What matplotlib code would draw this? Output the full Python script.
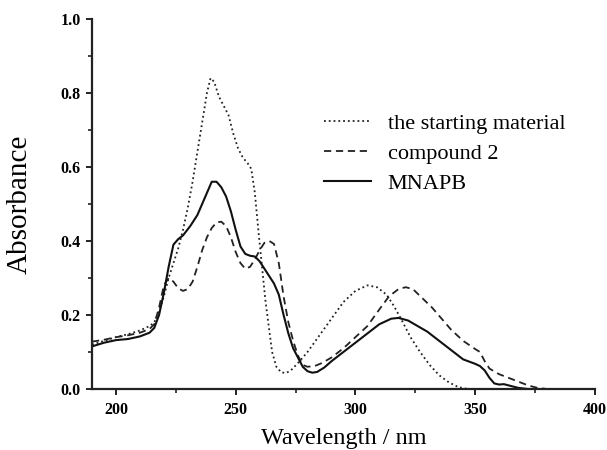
import numpy as np
import matplotlib
matplotlib.use('Agg')
import matplotlib.pyplot as plt
from matplotlib.ticker import MultipleLocator, FormatStrFormatter

plt.rcParams['font.family'] = ['Liberation Serif', 'DejaVu Serif']

# UV-vis absorption spectra
wl_start = [190, 195, 200, 205, 210, 214, 216, 218, 220, 222, 224, 226, 228, 230,
            232, 234, 236, 238, 239.5, 241, 243, 245, 247, 249, 251, 253, 255,
            256.5, 258, 259.6, 261, 262.4, 264, 265.2, 267, 269, 271, 273, 276,
            280, 285, 290, 295, 300, 305, 309, 313, 316, 319, 323, 327, 331, 335,
            339, 343, 347]
abs_start = [0.12, 0.13, 0.14, 0.148, 0.158, 0.17, 0.18, 0.21, 0.25, 0.30, 0.34,
             0.38, 0.43, 0.49, 0.56, 0.64, 0.72, 0.80, 0.84, 0.83, 0.79, 0.765,
             0.74, 0.69, 0.65, 0.625, 0.61, 0.595, 0.53, 0.42, 0.33, 0.24, 0.16,
             0.10, 0.06, 0.045, 0.043, 0.05, 0.07, 0.10, 0.145, 0.19, 0.235,
             0.265, 0.28, 0.275, 0.255, 0.225, 0.19, 0.14, 0.10, 0.065, 0.037,
             0.018, 0.005, 0.0]

wl_comp2 = [190, 195, 200, 205, 210, 214, 216, 218, 220, 222, 224, 226, 228, 230,
            232, 234, 236, 238, 240, 242, 244, 246, 248, 250, 252, 254, 256, 258,
            260, 262, 264, 266, 268, 270, 272, 274, 276, 278, 280, 283, 286, 290,
            295, 300, 305, 310, 314, 318, 321, 324, 328, 332, 336, 340, 345, 350,
            352, 354, 356, 360, 364, 368, 372, 376, 380]
abs_comp2 = [0.128, 0.133, 0.14, 0.145, 0.152, 0.162, 0.175, 0.22, 0.28, 0.30,
             0.29, 0.272, 0.265, 0.27, 0.29, 0.33, 0.375, 0.41, 0.435, 0.45,
             0.452, 0.44, 0.41, 0.37, 0.34, 0.325, 0.33, 0.35, 0.375, 0.395,
             0.40, 0.392, 0.34, 0.25, 0.18, 0.13, 0.09, 0.065, 0.06, 0.062, 0.07,
             0.085, 0.11, 0.14, 0.17, 0.215, 0.25, 0.27, 0.275, 0.27, 0.245,
             0.22, 0.19, 0.16, 0.13, 0.108, 0.10, 0.075, 0.055, 0.04, 0.03, 0.02,
             0.01, 0.003, 0.0]

wl_mnapb = [190, 195, 200, 205, 210, 214, 216, 218, 220, 222, 224, 226, 228, 231,
            234, 237, 240, 242, 244, 246, 248, 250, 252, 254, 256, 258, 260, 262,
            264, 266, 268, 270, 272, 274, 276, 278, 280, 282, 284, 287, 290, 295,
            300, 305, 310, 315, 318, 322, 326, 330, 335, 340, 345, 350, 352, 354,
            356, 358, 360, 362, 365, 368, 372, 376]
abs_mnapb = [0.115, 0.125, 0.132, 0.135, 0.142, 0.152, 0.165, 0.20, 0.26, 0.33,
             0.39, 0.405, 0.415, 0.44, 0.47, 0.515, 0.56, 0.56, 0.545, 0.52,
             0.48, 0.43, 0.385, 0.365, 0.36, 0.358, 0.345, 0.325, 0.305, 0.285,
             0.255, 0.20, 0.15, 0.11, 0.085, 0.06, 0.048, 0.044, 0.046, 0.058,
             0.075, 0.10, 0.125, 0.15, 0.175, 0.19, 0.192, 0.185, 0.17, 0.155,
             0.13, 0.105, 0.08, 0.068, 0.062, 0.05, 0.03, 0.015, 0.012, 0.013,
             0.008, 0.003, 0.0, 0.0]

fig = plt.figure(figsize=(6.07, 4.5), dpi=100)
ax = fig.add_axes([0.1516, 0.1356, 0.8284, 0.8224])

ax.plot(wl_start, abs_start, color='#222222', lw=1.3, linestyle=':', label='the starting material')
ax.plot(wl_comp2, abs_comp2, color='#222222', lw=1.3, linestyle='--', dashes=(4, 2.6), label='compound 2')
ax.plot(wl_mnapb, abs_mnapb, color='#111111', lw=1.5, linestyle='-', label='MNAPB')

ax.set_xlim(190, 400)
ax.set_ylim(0, 1.0)
ax.spines['top'].set_visible(False)
ax.spines['right'].set_visible(False)
for s in ['left', 'bottom']:
    ax.spines[s].set_linewidth(1.6)
    ax.spines[s].set_color('#222222')

ax.xaxis.set_major_locator(MultipleLocator(50))
ax.xaxis.set_minor_locator(MultipleLocator(25))
ax.yaxis.set_major_locator(MultipleLocator(0.2))
ax.yaxis.set_minor_locator(MultipleLocator(0.1))
ax.yaxis.set_major_formatter(FormatStrFormatter('%.1f'))
ax.tick_params(which='major', direction='out', length=4.5, width=1.4, color='#222222')
ax.tick_params(which='minor', direction='out', length=2.8, width=1.2, color='#222222')
ax.tick_params(which='major', labelsize=11.5)
ax.tick_params(axis='x', which='major', pad=5)
for lab in ax.get_xticklabels() + ax.get_yticklabels():
    lab.set_fontweight('bold')

ax.set_xlabel('Wavelength / nm', fontsize=17.5, va='top')
ax.xaxis.set_label_coords(0.5, -0.105)
ax.set_ylabel('Absorbance', fontsize=21)
ax.yaxis.set_label_coords(-0.118, 0.5)

ax.legend(loc='upper left', bbox_to_anchor=(0.462, 0.745), frameon=False,
          fontsize=16, handlelength=2.1, handletextpad=0.75, labelspacing=0.42,
          borderpad=0, borderaxespad=0)

fig.savefig('out.png', dpi=100)
